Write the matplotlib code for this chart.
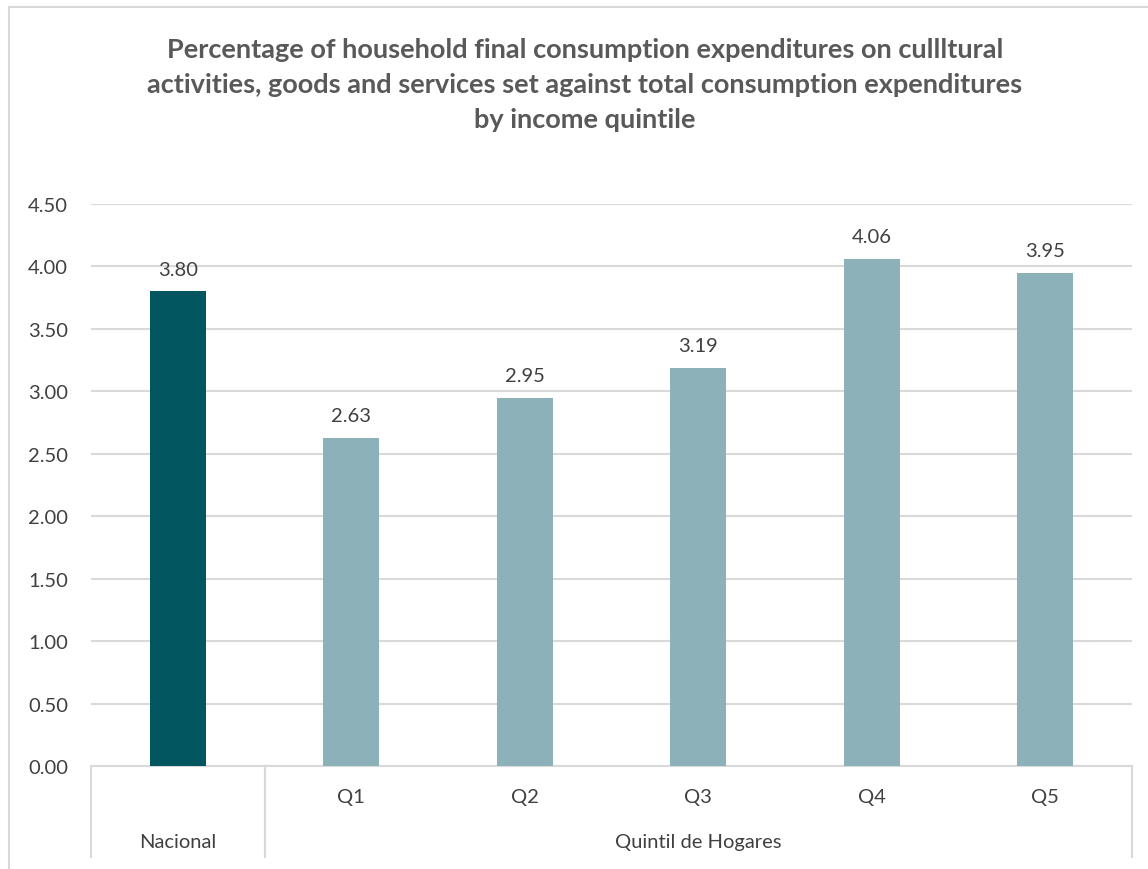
import numpy as np
import matplotlib.pyplot as plt
from matplotlib.patches import Rectangle

# data
categories = ["Nacional", "Q1", "Q2", "Q3", "Q4", "Q5"]
values = [3.80, 2.63, 2.95, 3.19, 4.06, 3.95]
groups = ["Nacional", "Quintil de Hogares"]
group_spans = [(0, 0), (1, 5)]
yticks = [0.0, 0.5, 1.0, 1.5, 2.0, 2.5, 3.0, 3.5, 4.0, 4.5]

title = ("Percentage of household final consumption expenditures on cullltural\n"
         "activities, goods and services set against total consumption expenditures\n"
         "by income quintile")

dark = "#02565F"
light = "#8CB1B8"
grid = "#D9D9D9"
txt = "#404040"

plt.rcParams['font.family'] = ['Lato', 'DejaVu Sans']

W, H = 1148, 870
fig = plt.figure(figsize=(W / 100, H / 100), dpi=100)

# outer chart border
fig.patches.append(Rectangle((9 / W, -0.05), 1.1, 1 - 8 / H + 0.05, transform=fig.transFigure,
                             fill=False, edgecolor=grid, linewidth=1.5))

left, right, top, bottom = 91, 1132, 205, 767
ax = fig.add_axes([left / W, 1 - bottom / H, (right - left) / W, (bottom - top) / H])

x = np.arange(len(categories))
colors = [dark] + [light] * (len(categories) - 1)
bars = ax.bar(x, values, width=0.32, color=colors, zorder=3)

for xi, v in zip(x, values):
    ax.annotate(f"{v:.2f}", (xi, v), xytext=(0, 10), textcoords="offset points",
                ha="center", va="bottom", fontsize=14.5, color=txt)

ax.set_xlim(-0.5, len(categories) - 0.5)
ax.set_ylim(0, 4.5)
ax.set_yticks(yticks)
ax.set_yticklabels([f"{t:.2f}" for t in yticks])
ax.tick_params(axis="y", length=0, pad=16.5, labelsize=14.5, labelcolor=txt)
ax.set_xticks([])
ax.yaxis.grid(True, color=grid, linewidth=1.5, zorder=0)
ax.set_axisbelow(True)
for s in ["top", "right", "left"]:
    ax.spines[s].set_visible(False)
ax.spines["bottom"].set_color(grid)
ax.spines["bottom"].set_linewidth(1.5)

# multi-level category axis
depth = (858 - bottom) / (bottom - top)
trans = ax.get_xaxis_transform()
for xi, c in enumerate(categories):
    if c in groups:
        continue
    ax.text(xi, -(798 - bottom) / (bottom - top), c, transform=trans,
            ha="center", va="center", fontsize=14.5, color=txt)
for g, (a, b) in zip(groups, group_spans):
    ax.text((a + b) / 2, -(843 - bottom) / (bottom - top), g, transform=trans,
            ha="center", va="center", fontsize=14.5, color=txt)
    for edge in (a - 0.5, b + 0.5):
        ax.plot([edge, edge], [0, -depth], transform=trans, color=grid,
                linewidth=1.5, clip_on=False)

fig.text(585 / W, 1 - 85 / H, title, ha="center", va="center",
         fontsize=19.5, fontweight="bold", color="#595959", linespacing=1.56)

fig.savefig("out.png", dpi=100)
